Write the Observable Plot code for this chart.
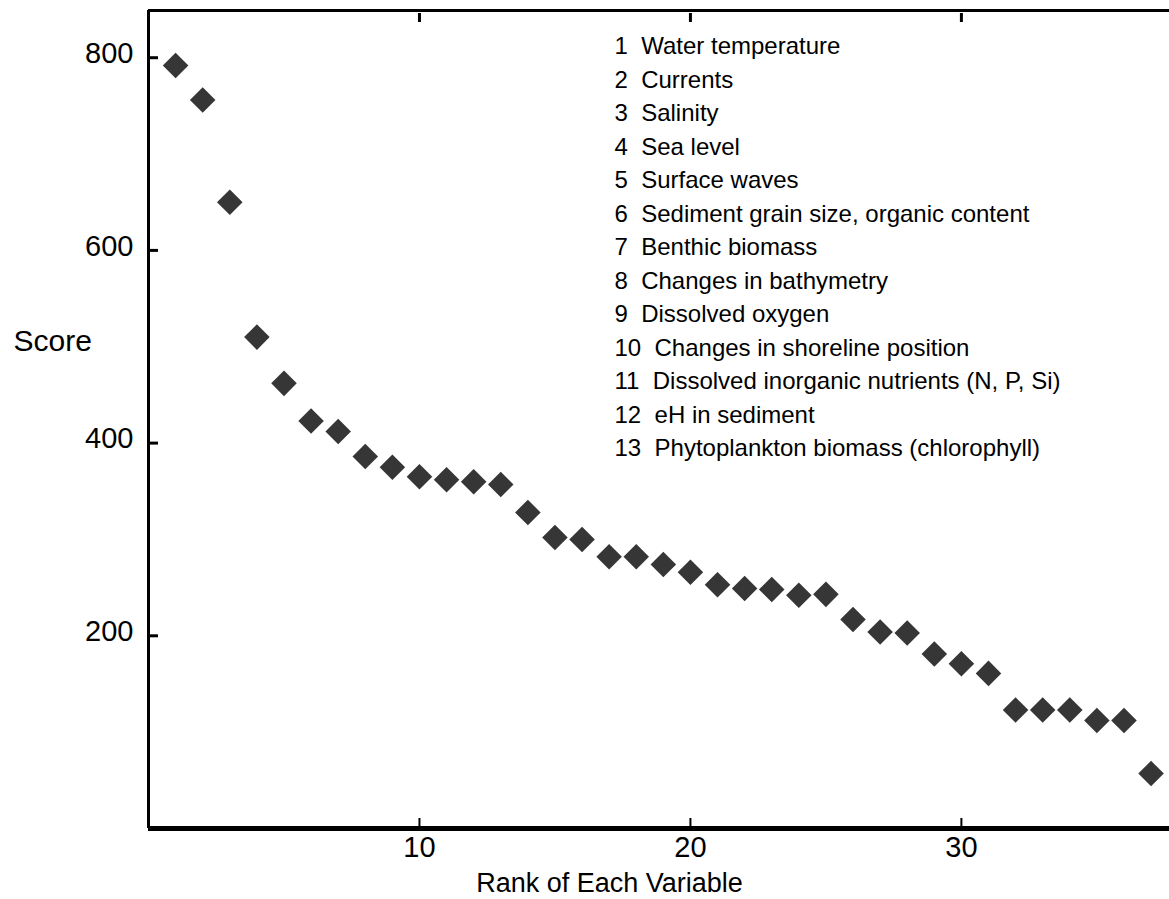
<!DOCTYPE html>
<html><head><meta charset="utf-8">
<script src="https://cdn.jsdelivr.net/npm/d3@7"></script>
<script src="https://cdn.jsdelivr.net/npm/@observablehq/plot@0.6"></script>
<style>body{margin:0;background:#fff}</style>
</head><body><div id="chart"></div>
<script>
const ranks = [1,2,3,4,5,6,7,8,9,10,11,12,13,14,15,16,17,18,19,20,21,22,23,24,25,26,27,28,29,30,31,32,33,34,35,36,37];
const scores = [792,756,650,510,462,423,412,386,375,365,362,360,357,328,302,300,282,282,274,266,253,249,248,242,243,217,204,203,181,171,161,123,123,123,112,112,57];
const legendNumbers = [1,2,3,4,5,6,7,8,9,10,11,12,13];
const legendLabels = [
  "Water temperature",
  "Currents",
  "Salinity",
  "Sea level",
  "Surface waves",
  "Sediment grain size, organic content",
  "Benthic biomass",
  "Changes in bathymetry",
  "Dissolved oxygen",
  "Changes in shoreline position",
  "Dissolved inorganic nutrients (N, P, Si)",
  "eH in sediment",
  "Phytoplankton biomass (chlorophyll)"
];
const xTicks = [10,20,30];
const yTicks = [200,400,600,800];
const xLabel = "Rank of Each Variable";
const yLabel = "Score";
const xDomain = [0, 37.68];
const yDomain = [0, 849];

const data = ranks.map((r,i)=>({rank:r, score:scores[i]}));
const legendText = legendNumbers.map((n,i)=>`${n}  ${legendLabels[i]}`).join("\n");

const W=1169, H=899, mL=148, mT=10, mB=71, mR=0;
const fw = W-mL-mR, fh = H-mT-mB;

const chart = Plot.plot({
  width: W, height: H, marginLeft: mL, marginTop: mT, marginBottom: mB, marginRight: mR,
  style: {fontFamily: "'Liberation Sans', Arial, sans-serif", background: "#fff", color: "#000"},
  x: {domain: xDomain},
  y: {domain: yDomain},
  marks: [
    Plot.axisX(xTicks, {tickSize: 0, tickPadding: 8, fontSize: 29, label: null}),
    Plot.axisY(yTicks, {tickSize: 0, tickPadding: 15, fontSize: 29, label: null, dy: -4}),
    Plot.tickX(xTicks, {stroke: "#000", strokeWidth: 2, insetTop: fh - 10}),
    Plot.tickX(xTicks, {stroke: "#000", strokeWidth: 3, insetTop: 3, insetBottom: fh - 12}),
    Plot.tickY(yTicks, {stroke: "#000", strokeWidth: 3, insetRight: fw - 10}),
    Plot.ruleX([xDomain[0]], {stroke: "#000", strokeWidth: 3}),
    Plot.ruleY([yDomain[0]], {stroke: "#000", strokeWidth: 5}),
    Plot.ruleY([yDomain[1]], {stroke: "#000", strokeWidth: 3}),
    Plot.dot(data, {x: "rank", y: "score", symbol: "diamond2", r: 11.5, fill: "#363636", stroke: null}),
    Plot.text([legendText], {frameAnchor: "top-left", text: d => d, dx: 466, dy: 20, textAnchor: "start", lineAnchor: "top", lineHeight: 1.396, fontSize: 24, fill: "#000"}),
    Plot.text([yLabel], {frameAnchor: "top-left", text: d => d, dx: -135, dy: 331, textAnchor: "start", lineAnchor: "middle", fontSize: 30, fill: "#000"}),
    Plot.text([xLabel], {frameAnchor: "bottom-left", text: d => d, dx: 461, dy: 55, textAnchor: "middle", lineAnchor: "middle", fontSize: 27, fill: "#000"})
  ]
});
document.getElementById("chart").appendChild(chart);
</script>
</body></html>
